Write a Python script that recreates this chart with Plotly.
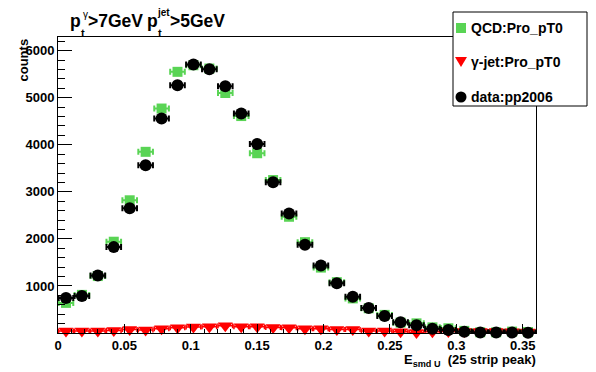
import plotly.graph_objects as go

# ---------------- data ----------------
bin_centers = [0.006, 0.018, 0.030, 0.042, 0.054, 0.066, 0.078, 0.090, 0.102, 0.114,
               0.126, 0.138, 0.150, 0.162, 0.174, 0.186, 0.198, 0.210, 0.222, 0.234,
               0.246, 0.258, 0.270, 0.282, 0.294, 0.306, 0.318, 0.330, 0.342, 0.354]

qcd_counts = [640, 810, 1210, 1940, 2820, 3850, 4770, 5550, 5690, 5620,
              5100, 4610, 3820, 3250, 2470, 1930, 1390, 1080, 735, 525,
              385, 220, 205, 120, 100, 45, 15, 15, 30, 20]

gjet_counts = [40, 40, 40, 55, 75, 65, 90, 110, 130, 135,
               155, 135, 135, 115, 110, 90, 90, 75, 75, 45,
               40, 25, 10, 25, 30, 30, 30, 30, 25, 20]

data_counts = [745, 785, 1220, 1825, 2650, 3565, 4560, 5265, 5705, 5605,
               5245, 4665, 4015, 3205, 2540, 1875, 1435, 1055, 770, 530,
               360, 230, 165, 90, 65, 25, 10, 10, 10, 5]

half_bin = 0.0055

series_names = ["QCD:Pro_pT0", "\u03b3-jet:Pro_pT0", "data:pp2006"]
series_colors = ["#59d454", "#ff0000", "#000000"]

x_tick_vals = [0, 0.05, 0.10, 0.15, 0.20, 0.25, 0.30, 0.35]
x_tick_text = ["0", "0.05", "0.1", "0.15", "0.2", "0.25", "0.3", "0.35"]
y_tick_vals = [1000, 2000, 3000, 4000, 5000, 6000]
y_tick_text = ["1000", "2000", "3000", "4000", "5000", "6000"]

# ---------------- layout helpers ----------------
W, H = 596, 372
L, R, T, B = 58, 60, 37, 39
PW, PH = W - L - R, H - T - B
FONT = "Liberation Sans, Arial, Helvetica, sans-serif"


def px(x):
    return (x - L) / PW


def py(y):
    return (H - B - y) / PH


fig = go.Figure()

symbols = ["square", "triangle-down", "circle"]
sizes = [10, 13, 12]
err_thick = [2, 1.5, 2]
err_cap = [3, 2.5, 3]
for name, vals, col, sym, sz, et, ec in zip(series_names,
                                            [qcd_counts, gjet_counts, data_counts],
                                            series_colors, symbols, sizes,
                                            err_thick, err_cap):
    fig.add_trace(go.Scatter(
        x=bin_centers, y=vals, mode="markers", name=name,
        marker=dict(color=col, symbol=sym, size=sz, line=dict(width=0)),
        error_x=dict(type="constant", value=half_bin, color=col,
                     thickness=et, width=ec),
        cliponaxis=False, showlegend=False,
    ))

fig.update_xaxes(
    range=[0, 0.36], showgrid=False, zeroline=False, automargin=False,
    showline=True, linecolor="black", linewidth=1, mirror=True,
    ticks="inside", ticklen=9, tickcolor="black", tickwidth=1,
    tickmode="array", tickvals=x_tick_vals, ticktext=x_tick_text,
    tickfont=dict(family=FONT, size=13, color="black", weight="bold"),
    minor=dict(ticks="inside", ticklen=4.5, dtick=0.01, tick0=0,
               tickcolor="black", showgrid=False),
)
fig.update_yaxes(
    range=[0, 6290], showgrid=False, zeroline=False, automargin=False,
    showline=True, linecolor="black", linewidth=1, mirror=True,
    ticks="inside", ticklen=14, tickcolor="black", tickwidth=1,
    tickmode="array", tickvals=y_tick_vals, ticktext=y_tick_text,
    tickfont=dict(family=FONT, size=13, color="black", weight="bold"),
    minor=dict(ticks="inside", ticklen=7, dtick=200, tick0=0,
               tickcolor="black", showgrid=False),
)

ann = []


def txt(text, x, y, size, xanchor="left", yanchor="middle", angle=0):
    ann.append(dict(text=text, x=px(x), y=py(y), xref="paper", yref="paper",
                    xanchor=xanchor, yanchor=yanchor, showarrow=False,
                    textangle=angle, borderpad=0, borderwidth=0,
                    font=dict(family=FONT, size=size, color="black")))


# title  p_t^gamma > 7GeV  p_t^jet > 5GeV
txt("<b>p</b>", 70, 20.5, 17.5)
txt("<b>t</b>", 81, 32.5, 11)
txt("\u03b3", 83, 15, 10)
txt("<b>>7GeV</b>", 88, 20.5, 17.5)
txt("<b>p</b>", 147, 20.5, 17.5)
txt("<b>t</b>", 158, 32.5, 11)
txt("<b>jet</b>", 157, 13, 10)
txt("<b>>5GeV</b>", 170, 20.5, 17.5)

# axis titles
txt("<b>E<sub>smd U</sub>  (25 strip peak)</b>", 536, 360, 13, xanchor="right")
txt("<b>counts</b>", 23, 39, 13, xanchor="center", yanchor="top", angle=-90)

# legend box (drawn by hand to match the ROOT TLegend layout)
shapes = [dict(type="rect", xref="paper", yref="paper",
               x0=px(453), x1=px(587), y0=py(12), y1=py(106),
               fillcolor="white", line=dict(color="black", width=1),
               layer="above")]
legend_rows = [28, 62, 97]
gx = 461
shapes.append(dict(type="rect", xref="paper", yref="paper",
                   x0=px(gx - 5), x1=px(gx + 5), y0=py(legend_rows[0] - 5),
                   y1=py(legend_rows[0] + 5), fillcolor=series_colors[0],
                   line=dict(width=0), layer="above"))
ty = legend_rows[1]
shapes.append(dict(type="path", xref="paper", yref="paper",
                   path=f"M {px(gx-6)},{py(ty-5)} L {px(gx+6)},{py(ty-5)} L {px(gx)},{py(ty+5)} Z",
                   fillcolor=series_colors[1], line=dict(width=0), layer="above"))
cy = legend_rows[2]
shapes.append(dict(type="circle", xref="paper", yref="paper",
                   x0=px(gx - 5.5), x1=px(gx + 5.5), y0=py(cy - 5.5), y1=py(cy + 5.5),
                   fillcolor=series_colors[2], line=dict(width=0), layer="above"))
for name, ry in zip(series_names, legend_rows):
    txt(f"<b>{name}</b>", 471, ry, 14)

fig.update_layout(
    width=W, height=H,
    margin=dict(l=L, r=R, t=T, b=B, pad=0),
    paper_bgcolor="white", plot_bgcolor="white",
    annotations=ann, shapes=shapes,
    showlegend=False,
)

fig.write_html("out.html",
               config={"displayModeBar": False, "staticPlot": True},
               post_script="document.body.style.margin='0';document.body.style.padding='0';")
